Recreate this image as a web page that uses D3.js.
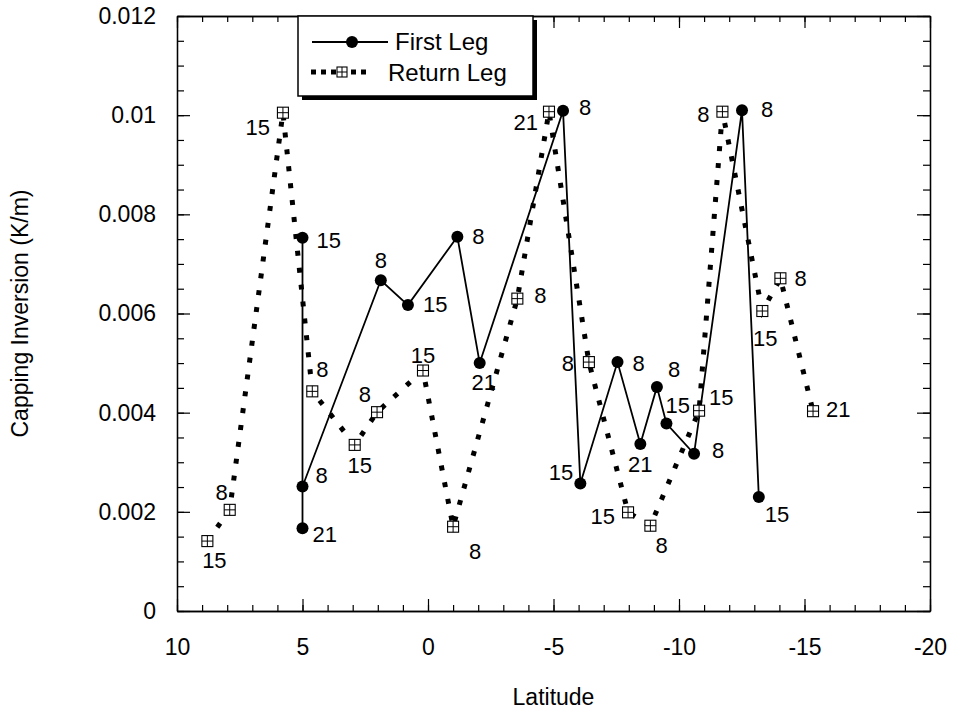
<!DOCTYPE html>
<html>
<head>
<meta charset="utf-8">
<script src="https://cdn.jsdelivr.net/npm/d3@7"></script>
<style>
  html, body { margin: 0; padding: 0; background: #fff; }
  svg { display: block; font-family: "Liberation Sans", Arial, Helvetica, sans-serif; }
</style>
</head>
<body>
<svg id="chart" width="958" height="711"></svg>
<script>
// First leg: latitude, capping inversion (K/m), launch hour
const firstLat  = [5.0, 5.0, 5.0, 1.88, 0.80, -1.17, -2.06, -5.38, -6.07, -7.55, -8.46, -9.12, -9.50, -10.60, -12.51, -13.18];
const firstVal  = [0.00753, 0.00167, 0.00251, 0.00667, 0.00617, 0.00755, 0.00500, 0.01009, 0.00257, 0.00502, 0.00337, 0.00452, 0.00378, 0.00317, 0.01010, 0.00230];
const firstHour = [15, 21, 8, 8, 15, 8, 21, 8, 15, 8, 21, 8, 15, 8, 8, 15];

// Return leg
const returnLat  = [8.79, 7.90, 5.78, 4.61, 2.92, 2.03, 0.20, -1.00, -3.56, -4.82, -6.41, -7.97, -8.86, -10.80, -11.73, -13.32, -14.04, -15.34];
const returnVal  = [0.00141, 0.00204, 0.01005, 0.00443, 0.00335, 0.00401, 0.00485, 0.00170, 0.00630, 0.01007, 0.00502, 0.00199, 0.00172, 0.00404, 0.01007, 0.00605, 0.00671, 0.00403];
const returnHour = [15, 8, 15, 8, 15, 8, 15, 8, 8, 21, 8, 15, 8, 15, 8, 15, 8, 21];

// Axis ticks
const xMajorTicks = [10, 5, 0, -5, -10, -15, -20];
const yMajorTicks = [0, 0.002, 0.004, 0.006, 0.008, 0.01, 0.012];
const yTickLabels = ["0", "0.002", "0.004", "0.006", "0.008", "0.01", "0.012"];

const seriesNames = ["First Leg", "Return Leg"];

// Hour-label placement next to each marker: [dx, dy, anchor]
const firstLabelPos = [
  [14, 10, "start"], [10, 14, "start"], [13, -4, "start"], [0, -12, "middle"],
  [15, 7, "start"], [15, 7, "start"], [4, 27, "middle"], [16, 4, "start"],
  [-7, -4, "end"], [15, 9, "start"], [0, 28, "middle"], [11, -10, "start"],
  [-1, -11, "start"], [18, 4, "start"], [19, 7, "start"], [6, 25, "start"]
];
const returnLabelPos = [
  [7, 27, "middle"], [-2, -10, "end"], [-13, 22, "end"], [4, -14, "start"],
  [5, 28, "middle"], [-6, -10, "end"], [0, -8, "middle"], [16, 32, "start"],
  [17, 4, "start"], [-11, 18, "end"], [-15, 9, "end"], [-13, 12, "end"],
  [5, 27, "start"], [10, -6, "start"], [-13, 10, "end"], [3, 35, "middle"],
  [14, 8, "start"], [13, 6, "start"]
];

const svg = d3.select("#chart");
const plotLeft = 177, plotRight = 930, plotTop = 16, plotBottom = 611;

const x = d3.scaleLinear().domain([10, -20]).range([plotLeft, plotRight]);
const y = d3.scaleLinear().domain([0, 0.012]).range([plotBottom, plotTop]);

const xMinor = d3.range(10, -20.5, -1);
const yMinor = d3.range(0, 0.01201, 0.0005);

function styleAxis(g) {
  g.selectAll("path.domain").attr("stroke", "#000").attr("stroke-width", 1.3);
  g.selectAll(".tick line").attr("stroke", "#000").attr("stroke-width", 1.2);
  g.selectAll(".tick text").attr("fill", "#000").attr("font-size", 23)
    .attr("font-family", "\"Liberation Sans\", Arial, Helvetica, sans-serif");
}

// Minor ticks on all four sides (pointing inward)
svg.append("g").attr("transform", `translate(0,${plotBottom})`)
  .call(d3.axisBottom(x).tickValues(xMinor).tickSize(-6).tickSizeOuter(0).tickFormat(""))
  .call(styleAxis);
svg.append("g").attr("transform", `translate(0,${plotTop})`)
  .call(d3.axisTop(x).tickValues(xMinor).tickSize(-6).tickSizeOuter(0).tickFormat(""))
  .call(styleAxis);
svg.append("g").attr("transform", `translate(${plotLeft},0)`)
  .call(d3.axisLeft(y).tickValues(yMinor).tickSize(-7).tickSizeOuter(0).tickFormat(""))
  .call(styleAxis);
svg.append("g").attr("transform", `translate(${plotRight},0)`)
  .call(d3.axisRight(y).tickValues(yMinor).tickSize(-7).tickSizeOuter(0).tickFormat(""))
  .call(styleAxis);

// Major ticks with labels
svg.append("g").attr("transform", `translate(0,${plotBottom})`)
  .call(d3.axisBottom(x).tickValues(xMajorTicks).tickSize(-12).tickSizeOuter(0).tickPadding(28)
    .tickFormat(d => String(d)))
  .call(styleAxis);
svg.append("g").attr("transform", `translate(0,${plotTop})`)
  .call(d3.axisTop(x).tickValues(xMajorTicks).tickSize(-12).tickSizeOuter(0).tickFormat(""))
  .call(styleAxis);
svg.append("g").attr("transform", `translate(${plotLeft},0)`)
  .call(d3.axisLeft(y).tickValues(yMajorTicks).tickSize(-13).tickSizeOuter(0).tickPadding(21)
    .tickFormat((d, i) => yTickLabels[i]))
  .call(styleAxis);
svg.append("g").attr("transform", `translate(${plotRight},0)`)
  .call(d3.axisRight(y).tickValues(yMajorTicks).tickSize(-13).tickSizeOuter(0).tickFormat(""))
  .call(styleAxis);

// Axis titles
svg.append("text").attr("x", (plotLeft + plotRight) / 2).attr("y", 705)
  .attr("text-anchor", "middle").attr("font-size", 23).text("Latitude");
svg.append("text").attr("transform", `translate(28,${(plotTop + plotBottom) / 2}) rotate(-90)`)
  .attr("text-anchor", "middle").attr("font-size", 23).text("Capping Inversion (K/m)");

const firstData = firstLat.map((d, i) => ({ lat: d, val: firstVal[i], hour: firstHour[i], pos: firstLabelPos[i] }));
const returnData = returnLat.map((d, i) => ({ lat: d, val: returnVal[i], hour: returnHour[i], pos: returnLabelPos[i] }));

const line = d3.line().x(d => x(d.lat)).y(d => y(d.val));

// Return leg: heavy square-dotted line
svg.append("path").datum(returnData)
  .attr("d", line).attr("fill", "none").attr("stroke", "#000")
  .attr("stroke-width", 5).attr("stroke-dasharray", "5,12");

// First leg: thin solid line
svg.append("path").datum(firstData)
  .attr("d", line).attr("fill", "none").attr("stroke", "#000").attr("stroke-width", 1.8);

// Boxed-cross marker
function crossBox(g, cx, cy, s) {
  g.append("rect").attr("x", cx - s / 2).attr("y", cy - s / 2).attr("width", s).attr("height", s)
    .attr("fill", "#fff").attr("stroke", "#000").attr("stroke-width", 1.1);
  g.append("line").attr("x1", cx).attr("x2", cx).attr("y1", cy - s / 2).attr("y2", cy + s / 2)
    .attr("stroke", "#000").attr("stroke-width", 1);
  g.append("line").attr("x1", cx - s / 2).attr("x2", cx + s / 2).attr("y1", cy).attr("y2", cy)
    .attr("stroke", "#000").attr("stroke-width", 1);
}

const retMarks = svg.append("g");
returnData.forEach(d => crossBox(retMarks, x(d.lat), y(d.val), 11));

svg.append("g").selectAll("circle").data(firstData).join("circle")
  .attr("cx", d => x(d.lat)).attr("cy", d => y(d.val)).attr("r", 6).attr("fill", "#000");

// Hour labels
function hourLabels(data) {
  svg.append("g").selectAll("text").data(data).join("text")
    .attr("x", d => x(d.lat) + d.pos[0])
    .attr("y", d => y(d.val) + d.pos[1])
    .attr("text-anchor", d => d.pos[2])
    .attr("font-size", 22)
    .text(d => d.hour);
}
hourLabels(firstData);
hourLabels(returnData);

// Legend with drop shadow
const lg = svg.append("g");
lg.append("rect").attr("x", 302).attr("y", 20).attr("width", 235).attr("height", 80).attr("fill", "#000");
lg.append("rect").attr("x", 298).attr("y", 16).attr("width", 235).attr("height", 80)
  .attr("fill", "#fff").attr("stroke", "#000").attr("stroke-width", 1.5);
lg.append("line").attr("x1", 312).attr("x2", 388).attr("y1", 42).attr("y2", 42)
  .attr("stroke", "#000").attr("stroke-width", 1.8);
lg.append("circle").attr("cx", 352).attr("cy", 42).attr("r", 6).attr("fill", "#000");
lg.append("text").attr("x", 395).attr("y", 50).attr("font-size", 24).text(seriesNames[0]);
lg.append("line").attr("x1", 311).attr("x2", 370).attr("y1", 72).attr("y2", 72)
  .attr("stroke", "#000").attr("stroke-width", 5).attr("stroke-dasharray", "5,5");
crossBox(lg, 342, 72, 10);
lg.append("text").attr("x", 388).attr("y", 81).attr("font-size", 24).text(seriesNames[1]);
</script>
</body>
</html>
